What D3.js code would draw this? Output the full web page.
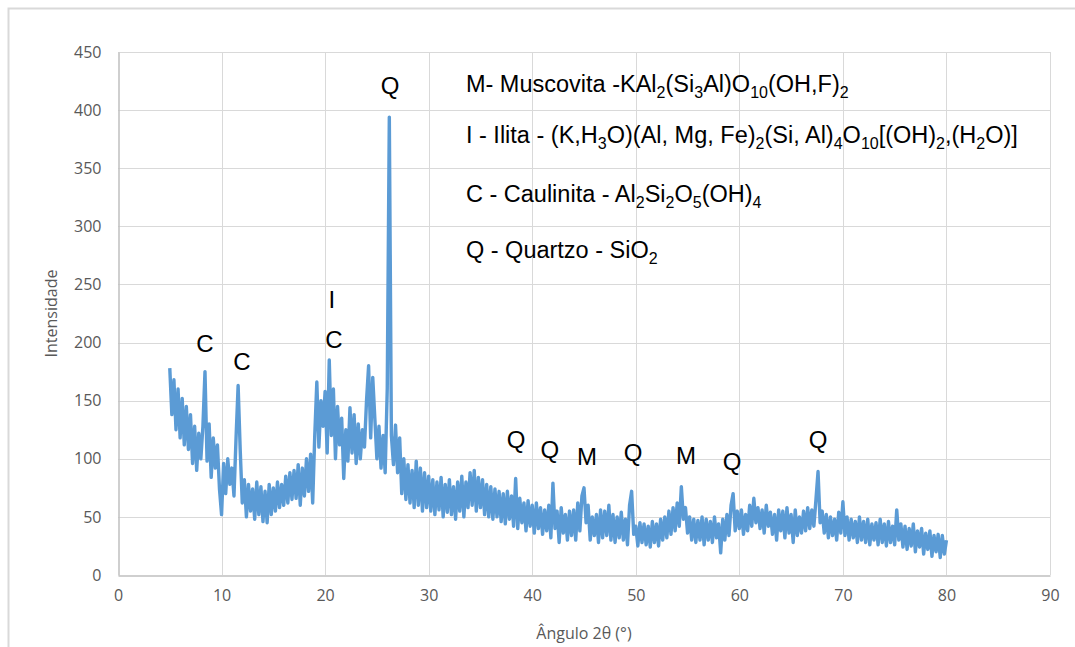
<!DOCTYPE html>
<html><head><meta charset="utf-8">
<script src="https://cdn.jsdelivr.net/npm/d3@7"></script>
<style>
body{margin:0;background:#fff;}
svg{display:block;}
</style></head>
<body>
<svg id="chart" width="1075" height="647"></svg>
<script>
// ---- data ----
const angleStart = 5.0;
const angleStep = 0.2;
const intensity = [
178,138,168,125,160, 118,152,112,145,108, 138,96,128,90,122, 100,128,175,98,130,
84,118,92,112,74, 52,96,70,100,78, 92,68,118,163,108, 62,82,50,78,55,
74,48,80,52,76, 46,72,45,78,52, 75,55,80,58,78, 60,85,62,88,65,
90,66,95,60,92, 68,100,72,104,62, 120,166,110,150,128, 158,105,185,120,160,
100,145,112,135,83, 125,98,144,105,138, 96,130,100,125,110, 150,180,118,170,135,
100,128,92,120,88, 160,394,120,95,129, 88,118,70,100,65, 95,62,90,58,98,
60,92,55,88,58, 85,55,82,52,80, 56,84,50,78,54, 82,52,76,48,80,
55,85,50,80,58, 88,60,90,55,84, 58,82,52,78,50, 76,48,74,50,72,
46,70,44,72,48, 68,42,83,40,66, 45,62,38,64,42, 60,36,62,40,58,
35,56,38,60,32, 79,40,55,28,58, 36,52,30,55,34, 56,30,62,38,68,
75,45,60,30,50, 34,52,28,56,32, 55,34,60,30,52, 28,50,32,54,30,
48,26,60,72,35, 42,25,45,28,44, 26,42,24,46,28, 44,25,48,30,50,
32,55,35,58,38, 62,42,76,48,58, 36,50,30,48,28, 47,30,50,26,48,
30,46,28,50,32, 44,19,48,30,52, 34,60,70,38,55, 40,56,35,52,38,
60,42,66,45,58, 40,56,36,60,42, 54,35,52,30,56, 38,55,32,58,36,
52,28,56,34,50, 36,55,38,58,40, 56,42,65,89,45, 55,36,52,32,50,
34,48,30,54,36, 63,34,50,30,48, 32,46,28,50,30, 46,28,48,26,44,
30,45,26,48,28, 44,25,46,28,42, 26,56,30,44,24, 42,22,40,25,44,
20,38,24,40,18, 36,22,38,16,34, 20,35,15,34,18, 30
];
const xTicks = [0,10,20,30,40,50,60,70,80,90];
const yTicks = [0,50,100,150,200,250,300,350,400,450];
const xTitle = "Ângulo 2θ (°)";
const yTitle = "Intensidade";
// peak labels: text, angle, intensity (baseline)
const peakText  = ["Q","C","C","I","C","Q","Q","M","Q","M","Q","Q"];
const peakAngle = [26.27,8.4,11.97,20.66,20.86,38.43,41.71,45.29,49.73,54.85,59.3,67.6];
const peakInt   = [413.9,192.3,176.4,229.7,195.3,109,101,94.6,98,95.3,90.3,109.3];
// legend of phases (subscripts in _{..})
const phaseLines = [
  "M- Muscovita -KAl_{2}(Si_{3}Al)O_{10}(OH,F)_{2}",
  "I - Ilita - (K,H_{3}O)(Al, Mg, Fe)_{2}(Si, Al)_{4}O_{10}[(OH)_{2},(H_{2}O)]",
  "C - Caulinita - Al_{2}Si_{2}O_{5}(OH)_{4}",
  "Q - Quartzo - SiO_{2}"
];
const phaseAngle = 33.6;
const phaseInt = [415.6, 371.5, 321.2, 272.8];

// ---- drawing ----
const svg = d3.select("#chart");
const W = 1075, H = 647;
const m = {left:118, right:25, top:52, bottom:72};
const x = d3.scaleLinear().domain([0,90]).range([m.left, W - m.right]);
const y = d3.scaleLinear().domain([0,450]).range([H - m.bottom, m.top]);

svg.append("rect").attr("x",8.5).attr("y",8.5).attr("width",1080).attr("height",660)
  .attr("fill","#fff").attr("stroke","#d9d9d9").attr("stroke-width",2);

const g = svg.append("g");
// gridlines
g.selectAll(".hg").data(yTicks.filter(d=>d>0)).join("line")
  .attr("x1",x(0)).attr("x2",x(90)).attr("y1",d=>Math.round(y(d))+0.5).attr("y2",d=>Math.round(y(d))+0.5)
  .attr("stroke","#d9d9d9").attr("stroke-width",1);
g.selectAll(".vg").data(xTicks.filter(d=>d>0)).join("line")
  .attr("y1",y(0)).attr("y2",y(450)).attr("x1",d=>Math.round(x(d))+0.5).attr("x2",d=>Math.round(x(d))+0.5)
  .attr("stroke","#d9d9d9").attr("stroke-width",1);

// axes
const xAxis = d3.axisBottom(x).tickValues(xTicks).tickSize(0).tickPadding(14);
const yAxis = d3.axisLeft(y).tickValues(yTicks).tickSize(0).tickPadding(17);
const gx = svg.append("g").attr("transform",`translate(0,${Math.round(y(0))+0.5})`).call(xAxis);
const gy = svg.append("g").attr("transform",`translate(${Math.round(x(0))+0.5},0)`).call(yAxis);
[gx,gy].forEach(a=>{
  a.select(".domain").attr("stroke","#bfbfbf").attr("stroke-width",1.5);
  a.selectAll("text").attr("fill","#595959").style("font-family","'Open Sans', 'Liberation Sans', sans-serif").style("font-size","16px");
});

// data line
const pts = intensity.map((v,i)=>[angleStart + i*angleStep, v]);
svg.append("path").datum(pts)
  .attr("fill","none").attr("stroke","#5b9bd5").attr("stroke-width",3.4).attr("stroke-linejoin","round")
  .attr("d", d3.line().x(d=>x(d[0])).y(d=>y(d[1])));

// axis titles
svg.append("text").attr("x",(x(0)+x(90))/2 + 0).attr("y",639).attr("text-anchor","middle")
  .attr("fill","#595959").style("font-family","'Open Sans', 'Liberation Sans', sans-serif").style("font-size","16px").text(xTitle);
svg.append("text").attr("transform",`translate(57,${(y(0)+y(450))/2}) rotate(-90)`).attr("text-anchor","middle")
  .attr("fill","#595959").style("font-family","'Open Sans', 'Liberation Sans', sans-serif").style("font-size","16px").text(yTitle);

// peak labels
svg.selectAll(".pk").data(peakText).join("text")
  .attr("x",(d,i)=>x(peakAngle[i])).attr("y",(d,i)=>y(peakInt[i]))
  .attr("text-anchor","middle").attr("fill","#000")
  .style("font-family","'Liberation Sans', Arial, sans-serif").style("font-size","24px").text(d=>d);

// phase legend with subscripts
phaseLines.forEach((s,i)=>{
  const t = svg.append("text").attr("x",x(phaseAngle)).attr("y",y(phaseInt[i]))
    .attr("fill","#000").style("font-family","'Liberation Sans', Arial, sans-serif").style("font-size","23.5px");
  const parts = s.split(/(_\{[^}]*\})/).filter(p=>p.length);
  let sub = false;
  parts.forEach(p=>{
    if (p.startsWith("_{")) {
      t.append("tspan").attr("dy", sub?0:6).style("font-size","16px").text(p.slice(2,-1));
      sub = true;
    } else {
      t.append("tspan").attr("dy", sub?-6:0).text(p);
      sub = false;
    }
  });
});
</script>
</body></html>
